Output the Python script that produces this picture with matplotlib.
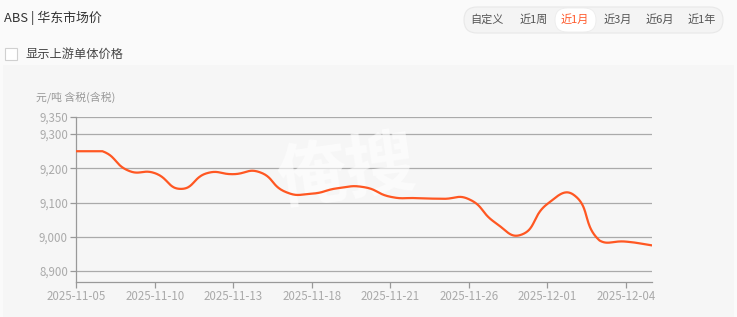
import numpy as np
import matplotlib
matplotlib.use("Agg")
import matplotlib.pyplot as plt
from matplotlib.patches import FancyBboxPatch, Rectangle

plt.rcParams['font.family'] = ['Noto Sans CJK SC', 'DejaVu Sans']

dates = ["2025-11-05", "2025-11-06", "2025-11-07", "2025-11-10", "2025-11-11", "2025-11-12",
         "2025-11-13", "2025-11-14", "2025-11-17", "2025-11-18", "2025-11-19", "2025-11-20",
         "2025-11-21", "2025-11-24", "2025-11-25", "2025-11-26", "2025-11-27", "2025-11-28",
         "2025-12-01", "2025-12-02", "2025-12-03", "2025-12-04", "2025-12-05"]
prices = [9250, 9250, 9193, 9186, 9140, 9186, 9183, 9189, 9131, 9126, 9142, 9145,
          9117, 9113, 9111, 9110, 9042, 9006, 9096, 9123, 8989, 8986, 8975]
tick_labels = ["2025-11-05", "2025-11-10", "2025-11-13", "2025-11-18",
               "2025-11-21", "2025-11-26", "2025-12-01", "2025-12-04"]
yticks = [8900, 9000, 9100, 9200, 9300, 9350]
title = "ABS | 华东市场价"
buttons = ["自定义", "近1周", "近1月", "近3月", "近6月", "近1年"]
selected = "近1月"
checkbox_label = "显示上游单体价格"
unit_label = "元/吨 含税(含税)"

W, H = 737, 317
fig = plt.figure(figsize=(W / 100, H / 100), dpi=100)
fig.patch.set_facecolor("#fafafa")

# pixel-coordinate overlay for page decorations
bg = fig.add_axes([0, 0, 1, 1])
bg.set_xlim(0, W)
bg.set_ylim(H, 0)
bg.axis("off")
bg.set_zorder(0)

bg.add_patch(Rectangle((3, 65), 731, 260, facecolor="#f6f6f6", edgecolor="none"))

bg.text(4, 18, title, fontsize=9.3, color="#333333", va="center", ha="left")

bg.add_patch(FancyBboxPatch((464, 7), 259, 26, boxstyle="round,pad=0,rounding_size=13",
                            facecolor="#f4f4f4", edgecolor="#e8e8e8", linewidth=0.8))
bg.add_patch(FancyBboxPatch((555, 8), 41, 24, boxstyle="round,pad=0,rounding_size=12",
                            facecolor="#ffffff", edgecolor="#ececec", linewidth=0.6))
btn_x = [487, 534, 575, 618, 660, 702]
for lbl, bx in zip(buttons, btn_x):
    bg.text(bx, 20, lbl, fontsize=8, ha="center", va="center",
            color="#ff5a2c" if lbl == selected else "#555555")

bg.add_patch(Rectangle((5, 48), 12, 12, facecolor="#ffffff", edgecolor="#d0d0d0", linewidth=0.8))
bg.text(26, 54, checkbox_label, fontsize=8.8, color="#444444", va="center", ha="left")

bg.text(36, 97, unit_label, fontsize=7.8, color="#999999", va="center", ha="left")

# chart axes
left, right, top, bottom = 76.3, 652, 117, 282
ax = fig.add_axes([left / W, 1 - bottom / H, (right - left) / W, (bottom - top) / H])
ax.set_zorder(2)
ax.set_facecolor("none")
ymin, ymax = 8868, 9350
ax.set_xlim(0, len(dates) - 1)
ax.set_ylim(ymin, ymax)

for yv in yticks:
    ax.axhline(yv, color="#aaaaaa", linewidth=0.9, zorder=1)

ax.text(0.47, 0.66, "俺搜", transform=ax.transAxes, fontsize=50, fontweight="bold",
        color="white", alpha=0.6, ha="center", va="center", rotation=8, zorder=2)

# smoothed path (smooth=0.5, control points kept inside the series' extent), pixel space
sx = (right - left) / (len(dates) - 1)
sy = (bottom - top) / (ymax - ymin)
P = np.column_stack([np.arange(len(prices)) * sx, np.array(prices, float) * sy])
lo, hi = P.min(axis=0), P.max(axis=0)
smooth = 0.5
n = len(P)
cp_in, cp_out = [None] * n, [None] * n
for i in range(n):
    prev = P[i - 1] if i > 0 else P[i]
    nxt = P[i + 1] if i < n - 1 else P[i]
    v = (nxt - prev) * smooth
    d0 = np.hypot(*(P[i] - prev))
    d1 = np.hypot(*(P[i] - nxt))
    s = d0 + d1
    if s:
        d0, d1 = d0 / s, d1 / s
    cp_in[i] = np.clip(P[i] - v * d0, lo, hi)
    cp_out[i] = np.clip(P[i] + v * d1, lo, hi)
t = np.linspace(0, 1, 40)[:, None]
segs = []
for i in range(n - 1):
    p0, c1, c2, p1 = P[i], cp_out[i], cp_in[i + 1], P[i + 1]
    segs.append((1 - t) ** 3 * p0 + 3 * (1 - t) ** 2 * t * c1 + 3 * (1 - t) * t ** 2 * c2 + t ** 3 * p1)
curve = np.vstack(segs)
ax.plot(curve[:, 0] / sx, curve[:, 1] / sy, color="#ff5722", linewidth=1.6, zorder=3,
        solid_capstyle="round")

for s in ["top", "right"]:
    ax.spines[s].set_visible(False)
for s in ["left", "bottom"]:
    ax.spines[s].set_color("#999999")
    ax.spines[s].set_linewidth(0.9)

tick_pos = [dates.index(d) for d in tick_labels]
ax.set_xticks(tick_pos)
ax.set_xticklabels(tick_labels)
ax.set_yticks(yticks)
ax.set_yticklabels([f"{v:,}" for v in yticks])
ax.tick_params(axis="both", colors="#999999", labelcolor="#aaaaaa", labelsize=8.3, length=4, width=0.9)
ax.tick_params(axis="x", pad=2)
ax.tick_params(axis="y", pad=2)

fig.savefig("out.png", dpi=100, facecolor=fig.get_facecolor())
